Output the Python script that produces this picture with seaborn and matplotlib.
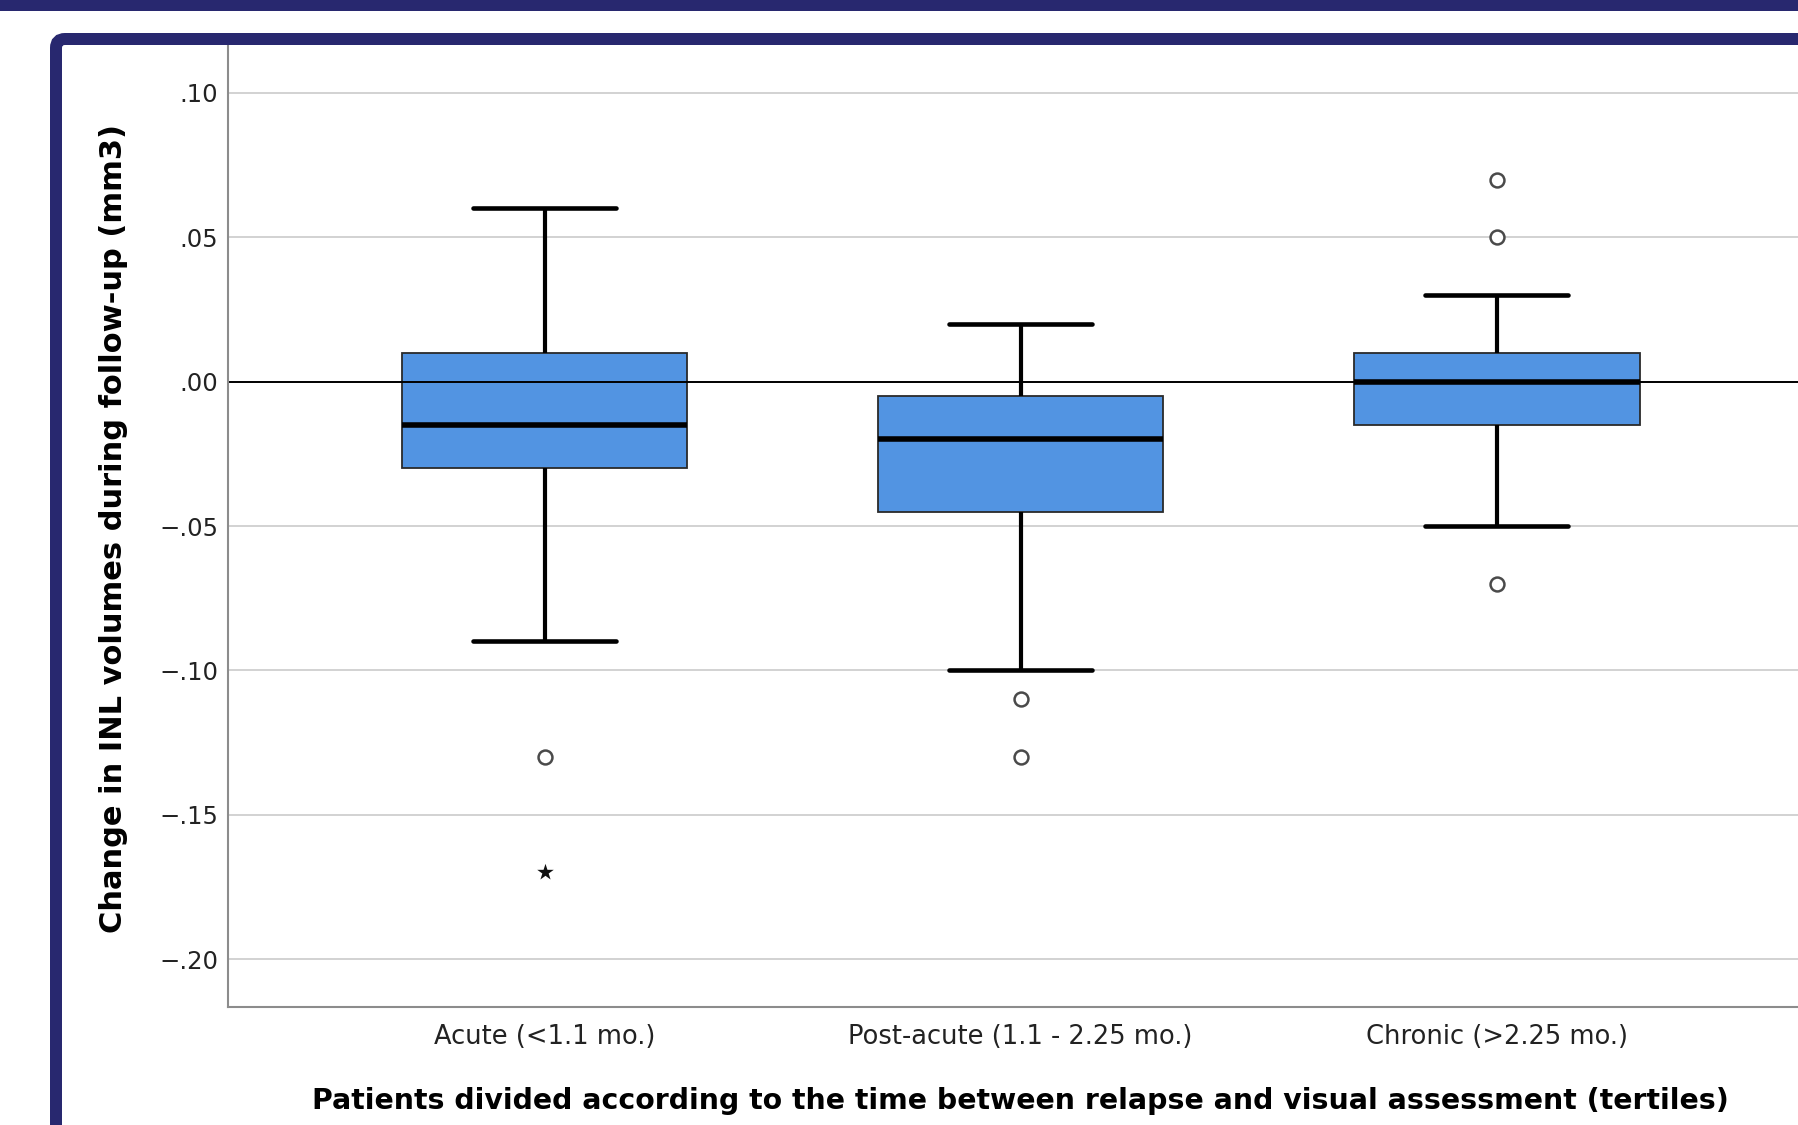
import matplotlib
matplotlib.use('Agg')
from matplotlib import pyplot as plt
from matplotlib.patches import FancyBboxPatch, Rectangle
from matplotlib.transforms import IdentityTransform
import seaborn as sns
import pandas as pd

# group labels, in axis order
categories = ['Acute (<1.1 mo.)', 'Post-acute (1.1 - 2.25 mo.)', 'Chronic (>2.25 mo.)']

acute_values = [-0.09, -0.03, -0.03, -0.015, -0.015, -0.015, 0.01, 0.01, 0.01, 0.06, 0.06]
post_acute_values = [-0.10, -0.045, -0.045, -0.02, -0.02, -0.02, -0.005, -0.005, -0.005, 0.02, 0.02]
chronic_values = [-0.05, -0.015, -0.015, -0.015, 0.0, 0.0, 0.0, 0.01, 0.01, 0.03]

# outliers (circles) and extremes (stars)
outlier_group = [categories[0], categories[1], categories[1], categories[2], categories[2], categories[2]]
outlier_value = [-0.13, -0.11, -0.13, 0.07, 0.05, -0.07]
extreme_group = [categories[0]]
extreme_value = [-0.17]

yticks = [-0.20, -0.15, -0.10, -0.05, 0.00, 0.05, 0.10]
ytick_labels = ['\u2212.20', '\u2212.15', '\u2212.10', '\u2212.05', '.00', '.05', '.10']

xlabel = 'Patients divided according to the time between relapse and visual assessment (tertiles)'
ylabel = 'Change in INL volumes during follow-up (mm3)'

BOX_COLOR = '#5294e2'
NAVY = '#28286f'

W, H = 1799, 1125


def build_frame() -> pd.DataFrame:
    rows = []
    for cat, vals in zip(categories, [acute_values, post_acute_values, chronic_values]):
        rows += [(cat, v) for v in vals]
    rows += list(zip(outlier_group, outlier_value))
    rows += list(zip(extreme_group, extreme_value))
    return pd.DataFrame(rows, columns=['period', 'change'])


if __name__ == '__main__':
    sns.set_theme(style='white')
    plt.rcParams['font.family'] = ['DejaVu Sans']

    df = build_frame()
    fig = plt.figure(figsize=(W / 100, H / 100), dpi=100)
    ax = fig.add_axes([228 / W, 118 / H, (W - 228) / W, 962 / H])

    ax.grid(axis='y', color='#cfcfcf', linewidth=1.3, zorder=0)
    ax.set_axisbelow(True)

    sns.boxplot(
        data=df, x='period', y='change', order=categories, ax=ax,
        width=0.6, whis=1.55, showfliers=False, color=BOX_COLOR,
        boxprops=dict(facecolor=BOX_COLOR, edgecolor='#2a2a2a', linewidth=1.3),
        medianprops=dict(color='black', linewidth=4),
        whiskerprops=dict(color='black', linewidth=3),
        capprops=dict(color='black', linewidth=3.3),
    )
    ax.axhline(0, color='black', linewidth=1.4, zorder=2.5)

    out_df = pd.DataFrame({'period': outlier_group, 'change': outlier_value})
    sns.stripplot(data=out_df, x='period', y='change', order=categories, ax=ax,
                  jitter=False, marker='o', color='white', edgecolor='#4a4a4a',
                  linewidth=1.8, size=10, zorder=4)
    ext_df = pd.DataFrame({'period': extreme_group, 'change': extreme_value})
    sns.stripplot(data=ext_df, x='period', y='change', order=categories, ax=ax,
                  jitter=False, marker='*', color='#111111', linewidth=0,
                  size=12.5, zorder=4)

    ax.set_xlim(-0.665, 2.635)
    ax.set_ylim(-0.2166, 0.1166)
    ax.set_yticks(yticks, ytick_labels)
    ax.tick_params(axis='y', length=0, pad=7, labelsize=17.5, labelcolor='#222222')
    ax.tick_params(axis='x', length=0, pad=12, labelsize=18.5, labelcolor='#222222')

    for side in ['top', 'right']:
        ax.spines[side].set_visible(False)
    for side in ['left', 'bottom']:
        ax.spines[side].set_color('#8c8c8c')
        ax.spines[side].set_linewidth(1.5)

    ax.set_xlabel(xlabel, fontsize=20.4, fontweight='bold', color='black')
    ax.xaxis.label.set_va('center')
    ax.xaxis.set_label_coords(1.665 / 3.3, -0.0977)
    ax.set_ylabel(ylabel, fontsize=22, fontweight='bold', color='black')
    ax.yaxis.label.set_va('center')
    ax.yaxis.set_label_coords(-114 / (W - 228), 0.497)

    # screenshot frame: top bar and rounded panel border
    fig.add_artist(Rectangle((0, H - 11), W, 11, facecolor=NAVY, edgecolor='none',
                             transform=IdentityTransform(), zorder=10))
    fig.add_artist(FancyBboxPatch((56, -200), 2200, H - 39 + 200,
                                  boxstyle='round,pad=0,rounding_size=9',
                                  facecolor='none', edgecolor=NAVY, linewidth=12 * 0.72,
                                  transform=IdentityTransform(), zorder=10))

    fig.savefig('out.png', dpi=100)
